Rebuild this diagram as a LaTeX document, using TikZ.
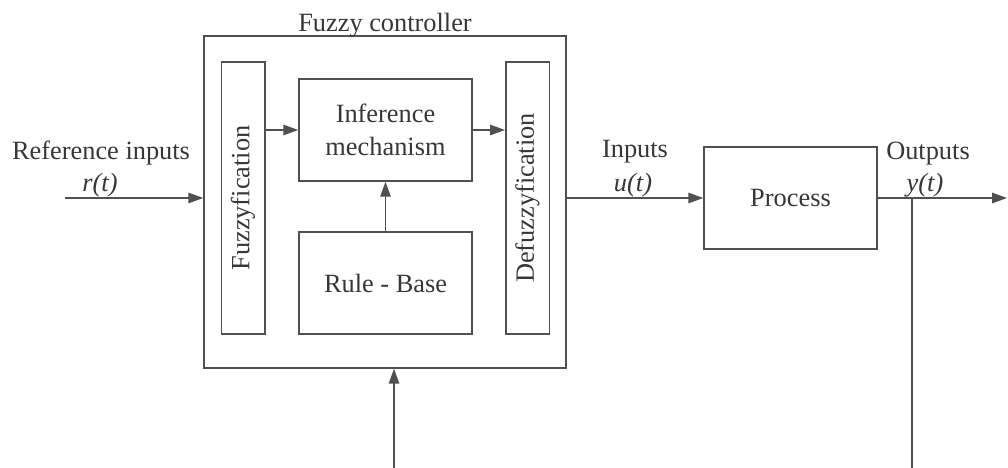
\documentclass[tikz,border=0pt]{standalone}
\usepackage{fontspec}
\setmainfont{Liberation Serif}
\usepackage{xcolor}
\definecolor{ink}{RGB}{55,55,55}
\definecolor{wire}{RGB}{80,80,80}
\usepackage{tikz}
\usetikzlibrary{arrows.meta, positioning, calc}

\begin{document}
\begin{tikzpicture}[
    font=\rmfamily\fontsize{15}{18.5}\selectfont,
    text=ink,
    block/.style={
        rectangle, draw=wire, line width=0.85pt,
        inner sep=0pt, align=center,
        minimum width=3.46cm, minimum height=2.04cm
    },
    bar/.style={
        rectangle, draw=wire, line width=0.85pt,
        inner sep=0pt,
        minimum width=0.87cm, minimum height=5.44cm
    },
    lbl/.style={anchor=base, inner sep=0pt},
    sig/.style={-{Triangle[length=0.3cm, width=0.21cm]}, draw=wire, line width=0.85pt},
    wireline/.style={draw=wire, line width=0.85pt}
]
\useasboundingbox (0,0) rectangle (20.16,9.36);

\node[rectangle, draw=wire, line width=0.85pt, minimum width=7.24cm, minimum height=6.64cm] (ctrl) at (7.70,5.32) {};
\node[lbl] (title) at (7.70,8.73) {Fuzzy controller};

\node[bar] (fuz)   at (4.86,5.40)  {\rotatebox{90}{Fuzzyfication}};
\node[bar] (defuz) at (10.55,5.40) {\rotatebox{90}{Defuzzyfication}};
\node[block] (inf)  at (7.71,6.76) {Inference\\mechanism};
\node[block] (rule) at (7.71,3.70) {Rule - Base};
\node[block] (proc) at (15.81,5.40) {Process};

\node[lbl] (refin) at (2.02,6.17) {Reference inputs};
\node[lbl] (rt)    at (2.00,5.53) {\textit{r(t)}};
\node[lbl] (uin)   at (12.70,6.20) {Inputs};
\node[lbl] (ut)    at (12.66,5.53) {\textit{u(t)}};
\node[lbl] (yout)  at (18.56,6.17) {Outputs};
\node[lbl] (yt)    at (18.50,5.53) {\textit{y(t)}};

\coordinate (rin) at (1.30,5.40);
\coordinate (out) at (20.14,5.40);
\coordinate (fb)  at (18.24,0);
\coordinate (cin) at (7.88,0);

\draw[sig] (rin) -- (rin -| ctrl.west);
\draw[sig] (inf.west -| fuz.east) -- (inf.west);
\draw[sig] (inf.east) -- (inf.east -| defuz.west);
\draw[sig] (rule.north) -- (inf.south);
\draw[sig] (proc.west -| ctrl.east) -- (proc.west);
\draw[sig] (proc.east) -- (out);
\draw[wireline] (proc.east -| fb) -- (fb);
\draw[sig] (cin) -- (cin |- ctrl.south);
\end{tikzpicture}
\end{document}
